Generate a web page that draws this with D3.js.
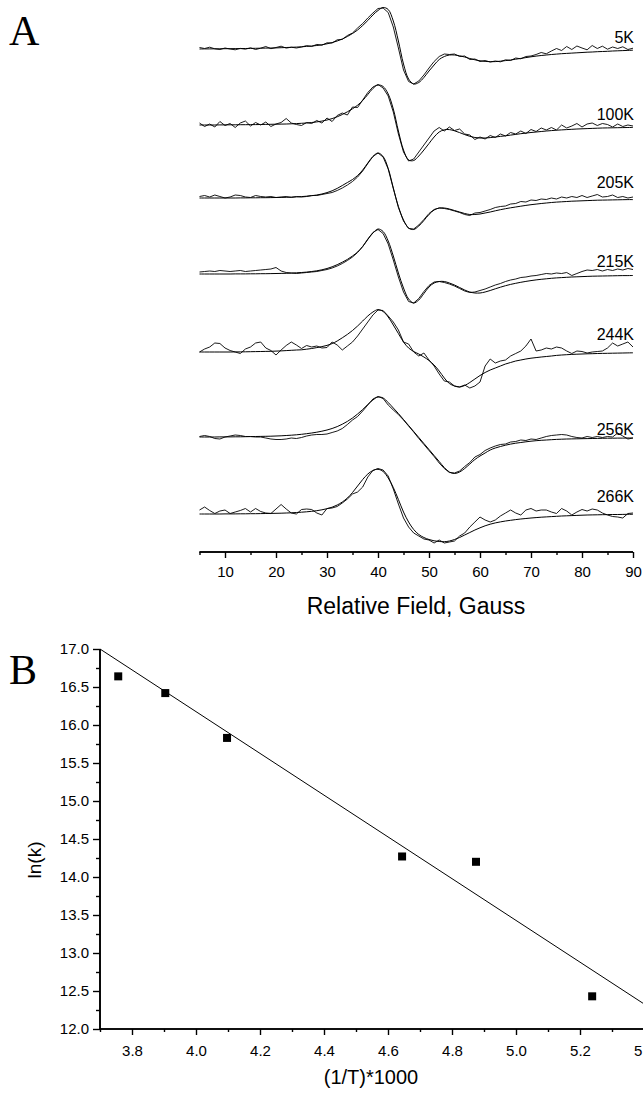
<!DOCTYPE html>
<html><head><meta charset="utf-8">
<script src="https://cdn.jsdelivr.net/npm/d3@7"></script>
<style>
body{margin:0;background:#fff}
svg{display:block}
text{font-family:"Liberation Sans",Arial,sans-serif;fill:#000}
</style>
</head><body>
<svg id="c" width="643" height="1093"></svg>
<script>
// ---------- Panel A data (field grid in Gauss, signal in arbitrary units) ----------
const field = d3.range(5, 91);
const temperatures = ["5K","100K","205K","215K","244K","256K","266K"];
const stackOffsets = [503, 427, 354, 278, 200, 115, 38];
const fieldTicks = [10,20,30,40,50,60,70,80,90];

const fit5K = [0,0.1,0.1,0.2,0.2,0.3,0.3,0.4,0.4,0.5,
 0.6,0.7,0.8,0.9,1.0,1.1,1.3,1.5,1.7,1.9,
 2.2,2.6,3.0,3.5,4.2,5.2,6.4,8.0,10.0,12.5,
 15.5,19.0,23.5,28.5,34.0,38.5,41.5,39.5,28.0,8.0,
 -15.0,-30.0,-35.0,-33.5,-28.5,-22.0,-16.0,-10.5,-7.5,-6.0,
 -6.0,-6.8,-8.0,-9.5,-10.8,-11.8,-12.4,-12.7,-12.6,-12.2,
 -11.6,-11.0,-10.2,-9.4,-8.6,-7.8,-7.1,-6.5,-6.0,-5.5,
 -5.1,-4.7,-4.4,-4.1,-3.8,-3.5,-3.2,-3.0,-2.7,-2.5,
 -2.3,-2.0,-1.8,-1.6,-1.4,-1.2];
const exp5K = [1.5,0.5,1.8,0.2,-0.5,1.0,0.0,-0.8,0.6,-0.2,
 1.2,-0.5,0.8,2.5,0.3,1.5,2.8,0.9,1.8,1.0,
 2.0,3.4,2.5,4.6,3.8,6.2,6.0,9.2,9.6,13.5,
 16.0,21.0,25.5,31.0,36.0,40.5,41.0,36.5,22.0,1.0,
 -21.0,-32.5,-35.0,-32.0,-26.0,-19.0,-12.5,-7.5,-5.0,-5.5,
 -5.0,-7.5,-7.0,-10.5,-10.0,-12.5,-11.5,-13.0,-12.0,-12.8,
 -10.8,-11.5,-9.0,-9.8,-7.5,-7.0,-5.5,-3.5,-4.8,-2.0,
 0.5,-1.5,2.5,-0.5,3.0,1.0,-0.8,3.5,0.5,2.8,
 -0.2,2.0,0.5,2.2,-0.5,0.8];

const fit100K = [0,0,0,0,0.1,0.1,0.2,0.2,0.3,0.3,
 0.4,0.4,0.5,0.6,0.7,0.8,0.9,1.0,1.2,1.4,
 1.7,2.0,2.5,3.1,3.9,5.0,6.4,8.2,10.5,13.2,
 16.2,19.8,24.5,30.5,36.5,40.0,38.5,31.0,16.0,-6.0,
 -25.0,-35.0,-35.5,-31.0,-25.0,-18.5,-12.0,-7.0,-4.8,-4.6,
 -5.8,-7.6,-9.6,-11.3,-12.5,-13.0,-13.0,-12.6,-12.0,-11.4,
 -10.8,-10.1,-9.4,-8.7,-8.1,-7.5,-7.0,-6.5,-6.0,-5.6,
 -5.2,-4.9,-4.6,-4.3,-4.0,-3.8,-3.6,-3.4,-3.2,-3.0,
 -2.9,-2.8,-2.7,-2.6,-2.5,-2.4];
const exp100K = [2.0,-1.5,1.0,-2.0,3.5,-0.5,1.5,-2.5,2.0,4.0,
 -1.0,2.5,0.0,3.0,-1.5,1.0,2.5,6.5,2.0,0.5,
 -0.5,2.5,1.5,4.5,2.0,7.0,3.5,9.5,12.0,10.0,
 18.0,17.5,25.0,32.5,38.0,40.5,37.0,29.0,13.0,-9.0,
 -27.0,-36.0,-34.0,-27.0,-20.0,-13.0,-6.0,-2.5,-6.0,-2.0,
 -5.5,-4.0,-9.0,-10.0,-14.5,-12.0,-14.0,-10.5,-12.5,-9.0,
 -11.0,-7.5,-9.0,-6.0,-8.5,-4.5,-6.5,-3.0,-5.0,-2.5,
 -5.0,0.0,-3.0,-1.0,1.5,-2.0,1.0,2.0,-0.5,1.5,
 0.5,-2.0,1.0,-1.5,0.0,-1.0];

const fit205K = [0,0,0,0,0,0,0,0,0.1,0.1,
 0.2,0.2,0.3,0.3,0.4,0.5,0.6,0.7,0.9,1.1,
 1.4,1.8,2.3,3.0,4.0,5.4,7.2,9.6,12.5,15.5,
 18.5,22.5,28.0,35.0,41.5,45.0,41.5,29.5,10.0,-8.5,
 -22.0,-30.0,-31.5,-28.0,-22.5,-16.5,-12.0,-10.0,-10.0,-11.0,
 -12.5,-14.0,-15.5,-16.5,-16.5,-16.0,-15.0,-14.0,-12.8,-11.7,
 -10.7,-9.8,-9.0,-8.2,-7.4,-6.7,-6.1,-5.5,-5.0,-4.5,
 -4.1,-3.8,-3.5,-3.2,-3.0,-2.8,-2.6,-2.4,-2.2,-2.1,
 -2.0,-1.9,-1.8,-1.7,-1.6,-1.6];
const exp205K = [1.5,2.5,1.0,3.0,1.5,0.0,1.0,3.0,2.5,1.0,
 0.5,2.5,1.5,1.0,1.5,0.5,1.0,1.5,0.5,1.5,
 1.0,1.5,2.5,2.5,3.5,4.5,5.5,7.5,10.0,13.0,
 16.5,21.0,27.0,34.5,41.5,45.0,41.0,29.0,9.5,-9.5,
 -23.0,-30.5,-31.0,-27.0,-21.5,-15.5,-11.5,-10.0,-10.5,-11.5,
 -13.0,-14.5,-16.5,-17.5,-15.0,-14.5,-13.0,-11.5,-9.5,-8.5,
 -8.0,-6.0,-5.5,-3.5,-4.0,-2.0,-2.5,-1.0,-1.5,0.0,
 -1.0,1.0,0.0,1.5,0.5,2.5,0.5,2.0,3.5,1.0,
 1.5,3.0,0.5,1.5,0.0,1.0];

const fit215K = [0,0,0,0,0,0,0,0.1,0.1,0.1,
 0.2,0.2,0.3,0.3,0.4,0.5,0.6,0.7,0.9,1.2,
 1.5,1.9,2.5,3.2,4.2,5.5,7.2,9.3,11.8,14.6,
 18.0,22.0,27.5,34.5,41.0,45.0,42.5,33.0,18.0,1.0,
 -14.0,-25.0,-29.0,-26.0,-19.5,-13.0,-9.0,-7.5,-7.5,-9.0,
 -11.0,-13.5,-16.0,-18.0,-19.0,-19.0,-18.0,-16.5,-14.8,-13.2,
 -11.7,-10.4,-9.3,-8.3,-7.4,-6.6,-5.9,-5.3,-4.8,-4.3,
 -3.9,-3.6,-3.3,-3.0,-2.8,-2.6,-2.4,-2.2,-2.1,-2.0,
 -1.9,-1.8,-1.7,-1.6,-1.6,-1.5];
const exp215K = [2.0,2.5,3.0,2.5,3.5,3.0,2.5,3.0,3.5,2.5,
 3.0,3.5,4.0,4.5,5.0,6.5,3.0,1.5,1.0,0.5,
 1.0,1.5,2.0,2.5,3.5,4.5,6.0,8.0,10.5,13.5,
 17.0,21.5,27.5,35.0,41.5,44.5,40.5,30.0,14.0,-3.0,
 -18.0,-27.5,-29.0,-24.5,-17.5,-11.5,-8.0,-7.5,-8.5,-10.0,
 -12.0,-14.5,-17.0,-18.5,-18.0,-16.5,-15.0,-13.0,-11.0,-9.5,
 -7.5,-6.0,-5.0,-3.5,-3.0,-2.0,-1.5,-0.5,0.5,0.0,
 1.0,0.5,1.5,-1.5,0.5,2.5,4.0,3.5,4.5,3.0,
 4.5,3.5,5.0,4.0,5.5,4.5];

const fit244K = [0,0,0,0,0,0,0,0.1,0.1,0.2,
 0.3,0.4,0.5,0.6,0.7,0.9,1.1,1.4,1.7,2.0,
 2.2,2.8,3.5,4.4,5.4,6.6,8.4,11.0,14.2,17.6,
 21.5,26.0,31.0,36.0,40.0,42.4,40.5,35.0,27.0,18.5,
 10.0,4.0,0.5,-2.0,-5.0,-8.5,-13.0,-19.0,-26.0,-31.5,
 -34.0,-35.0,-33.5,-30.5,-27.0,-23.5,-20.5,-18.0,-16.0,-14.0,
 -12.0,-10.5,-9.0,-8.0,-7.0,-6.2,-5.6,-5.0,-4.5,-4.0,
 -3.4,-3.0,-2.7,-2.4,-2.2,-2.0,-1.8,-1.7,-1.5,-1.4,
 -1.3,-1.2,-1.1,-1.0,-0.9,-0.8];
const exp244K = [0,3,5,9,8.5,4,1.5,0,-1.5,3,
 5,9,10,4,1.5,-3,2,6.5,10,7,
 3.5,6.5,5,6,4,4.5,10,7,2,6,
 10,16,23,30,37,42,41.5,36,30,22,
 10,8,0,-4,-1,-8,-14,-22,-29,-30,
 -34,-35,-33,-36,-34,-30,-14,-7,-11,-9,
 -8,-4,-1.5,1,6,13,1,2,4,3,
 5,4,1,-1.5,1,0.5,-1,0,0.5,1,
 4,9,6,8,10,5];

const fit256K = [0,0,0,0,0.1,0.1,0.1,0.2,0.2,0.3,
 0.4,0.5,0.6,0.7,0.8,1.0,1.2,1.5,1.8,2.2,
 2.7,3.3,4.0,4.8,5.8,7.0,8.5,10.4,12.8,15.6,
 19.0,23.0,27.5,32.5,37.0,40.0,39.0,34.5,29.0,23.5,
 17.5,11.5,5.5,-0.5,-6.5,-12.5,-18.5,-24.5,-30.5,-35.0,
 -36.5,-35.0,-31.5,-27.0,-22.5,-19.0,-16.0,-13.0,-11.0,-9.5,
 -8.2,-7.1,-6.2,-5.5,-4.8,-4.2,-3.7,-3.3,-3.0,-2.7,
 -2.4,-2.2,-2.0,-1.9,-1.8,-1.7,-1.6,-1.5,-1.4,-1.3,
 -1.2,-1.2,-1.1,-1.1,-1.0,-1.0];
const exp256K = [0.5,1.5,0.5,-1.5,-2.0,0.0,1.0,2.0,1.5,0.5,
 0.5,0.0,0.0,-1.0,-2.0,-2.5,-2.5,-2.0,-1.0,-1.5,
 -0.5,1.0,2.0,2.5,2.5,3.0,4.5,6.0,8.5,12.5,
 17.0,20.5,26.0,32.0,38.0,40.5,38.5,32.0,27.0,22.5,
 17.0,11.0,5.0,-1.5,-7.5,-13.5,-19.5,-26.0,-31.5,-35.5,
 -36.0,-34.0,-29.5,-25.5,-20.0,-17.5,-13.5,-11.0,-9.0,-7.5,
 -7.0,-5.0,-4.5,-3.0,-3.5,-2.0,-2.5,-1.0,0.5,1.5,
 2.0,2.5,2.0,0.5,-0.5,-1.0,0.5,-0.5,0.5,-0.5,
 0.5,0.0,4.0,1.0,-2.0,-1.0];

const fit266K = [0,0,0,0,0,0.1,0.1,0.1,0.2,0.2,
 0.3,0.3,0.4,0.5,0.6,0.7,0.8,1.0,1.2,1.5,
 1.8,2.2,2.7,3.3,4.2,5.3,6.8,9.0,12.0,16.0,
 21.5,28.0,34.5,40.0,43.5,44.7,42.5,36.0,26.5,14.5,
 2.0,-8.0,-15.5,-20.5,-23.5,-25.5,-26.8,-27.5,-27.7,-27.0,
 -25.5,-23.5,-21.0,-18.5,-16.0,-13.8,-11.8,-10.2,-8.9,-7.9,
 -7.0,-6.3,-5.6,-5.0,-4.5,-4.0,-3.6,-3.2,-2.9,-2.6,
 -2.3,-2.0,-1.8,-1.6,-1.4,-1.2,-1.0,-0.9,-0.8,-0.7,
 -0.6,-0.5,-0.5,-0.4,-0.3,-0.3];
const exp266K = [4.0,7.0,3.5,0.5,3.0,4.0,0.5,2.0,3.5,5.5,
 2.0,5.5,2.5,1.0,0.5,5.0,9.5,5.0,1.0,0.0,
 4.5,5.0,4.5,1.0,-1.0,5.5,6.0,7.5,11.0,15.0,
 20.0,22.0,27.0,37.0,43.5,45.5,44.0,38.0,25.0,10.0,
 -4.0,-13.0,-19.0,-22.0,-25.0,-26.0,-29.0,-26.0,-29.0,-28.0,
 -27.0,-22.0,-19.0,-13.0,-8.0,-3.0,-6.0,-8.0,-6.0,-2.0,
 1.0,4.0,1.0,-1.0,4.0,5.5,3.0,4.0,4.0,2.0,
 0.5,5.5,3.0,-1.0,2.0,4.5,3.0,5.0,4.0,1.0,
 -1.0,-2.5,-3.0,-4.0,0.5,1.0];

const fitSeries = [fit5K, fit100K, fit205K, fit215K, fit244K, fit256K, fit266K];
const expSeries = [exp5K, exp100K, exp205K, exp215K, exp244K, exp256K, exp266K];

// ---------- Panel B data ----------
const invT = [3.757, 3.904, 4.097, 4.644, 4.875, 5.238];
const lnK = [16.64, 16.42, 15.83, 14.27, 14.20, 12.43];
const fitLineX = [3.7, 5.4];
const fitLineY = [17.0, 12.33];
const invTTicks = [3.8,4.0,4.2,4.4,4.6,4.8,5.0,5.2,5.4];
const lnKTicks = [12.0,12.5,13.0,13.5,14.0,14.5,15.0,15.5,16.0,16.5,17.0];

// ---------- Drawing ----------
const svg = d3.select("#c");
const labelNudge = [6, 5, 10, 7, 12, 2, 12];
const SANS = "Liberation Sans, Arial, sans-serif";
const SERIF = "Liberation Serif, Times New Roman, serif";

// Panel A
const xA = d3.scaleLinear().domain([5, 90]).range([199.5, 633]);
const yA = d3.scaleLinear().domain([0, 552]).range([552, 0]);
const gA = svg.append("g");

temperatures.forEach((t, i) => {
  const off = stackOffsets[i];
  const fitLine = d3.line().x((d, j) => xA(field[j])).y(d => yA(d + off)).curve(d3.curveCatmullRom);
  const expLine = d3.line().x((d, j) => xA(field[j])).y(d => yA(d + off));
  gA.append("path").attr("d", fitLine(fitSeries[i])).attr("fill", "none").attr("stroke", "#000").attr("stroke-width", 1);
  gA.append("path").attr("d", expLine(expSeries[i])).attr("fill", "none").attr("stroke", "#000").attr("stroke-width", 0.9);
  gA.append("text").attr("x", 634).attr("y", yA(off) - labelNudge[i])
    .attr("text-anchor", "end").style("font-size", "16px").style("font-family", SANS).text(t);
});

const axAMinor = d3.axisBottom(xA).tickValues(d3.range(5, 90, 10)).tickSize(3).tickFormat("");
const axAMajor = d3.axisBottom(xA).tickValues(fieldTicks).tickSize(6).tickPadding(8);
const gAx1 = svg.append("g").attr("transform", "translate(0,552)").call(axAMinor);
const gAx2 = svg.append("g").attr("transform", "translate(0,552)").call(axAMajor);
[gAx1, gAx2].forEach(g => {
  g.select(".domain").attr("stroke-width", 1.6).attr("d", `M${xA(5)},0H${xA(90)}`);
  g.selectAll(".tick line").attr("stroke-width", 1.4);
});
gAx2.selectAll(".tick text").style("font-size", "15px").style("font-family", SANS);
svg.append("text").attr("x", 416).attr("y", 614).attr("text-anchor", "middle")
  .style("font-size", "23px").style("font-family", SANS).text("Relative Field, Gauss");

svg.append("text").attr("x", 9).attr("y", 45).style("font-family", SERIF)
  .style("font-size", "42px").text("A");

// Panel B
const xB = d3.scaleLinear().domain([3.7, 5.4]).range([100, 644]);
const yB = d3.scaleLinear().domain([12, 17]).range([1029, 649]);

const axBxMinor = d3.axisBottom(xB).tickValues([3.7,3.9,4.1,4.3,4.5,4.7,4.9,5.1,5.3]).tickSize(3).tickFormat("");
const axBxMajor = d3.axisBottom(xB).tickValues(invTTicks).tickSize(6).tickPadding(10).tickFormat(d3.format(".1f"));
const axByMinor = d3.axisLeft(yB).tickValues(d3.range(12.25, 17, 0.5)).tickSize(4).tickFormat("");
const axByMajor = d3.axisLeft(yB).tickValues(lnKTicks).tickSize(7).tickPadding(4).tickFormat(d3.format(".1f"));

const gBx1 = svg.append("g").attr("transform", "translate(0,1029)").call(axBxMinor);
const gBx2 = svg.append("g").attr("transform", "translate(0,1029)").call(axBxMajor);
const gBy1 = svg.append("g").attr("transform", "translate(100,0)").call(axByMinor);
const gBy2 = svg.append("g").attr("transform", "translate(100,0)").call(axByMajor);
[gBx1, gBx2, gBy1, gBy2].forEach(g => {
  g.select(".domain").attr("stroke-width", 1.6);
  g.selectAll(".tick line").attr("stroke-width", 1.4);
  g.selectAll(".tick text").style("font-size", "15px").style("font-family", SANS);
});
gBx1.select(".domain").attr("d", `M${xB(3.7)},0H${xB(5.4)}`);
gBx2.select(".domain").attr("d", `M${xB(3.7)},0H${xB(5.4)}`);
gBy1.select(".domain").attr("d", `M0,${yB(12)}V${yB(17)}`);
gBy2.select(".domain").attr("d", `M0,${yB(12)}V${yB(17)}`);

svg.append("path")
  .attr("d", d3.line().x(d => xB(d)).y((d, i) => yB(fitLineY[i]))(fitLineX))
  .attr("fill", "none").attr("stroke", "#000").attr("stroke-width", 1);

svg.selectAll("rect.pt").data(invT).join("rect").attr("class", "pt")
  .attr("x", d => xB(d) - 4).attr("y", (d, i) => yB(lnK[i]) - 4)
  .attr("width", 8).attr("height", 8).attr("fill", "#000");

svg.append("text").attr("x", 371).attr("y", 1084).attr("text-anchor", "middle")
  .style("font-size", "20px").style("font-family", SANS).text("(1/T)*1000");
svg.append("text").attr("transform", "translate(41,860) rotate(-90)").attr("text-anchor", "middle")
  .style("font-size", "19px").style("font-family", SANS).text("ln(k)");

svg.append("text").attr("x", 9).attr("y", 684).style("font-family", SERIF)
  .style("font-size", "42px").text("B");
</script>
</body></html>
